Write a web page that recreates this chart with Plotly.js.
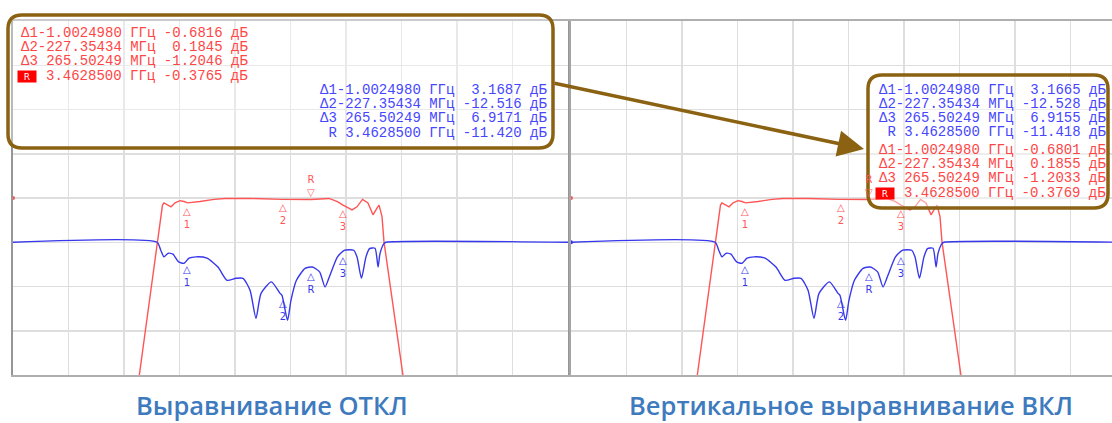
<!DOCTYPE html>
<html>
<head>
<meta charset="utf-8">
<script src="https://cdn.plot.ly/plotly-3.0.1.min.js"></script>
<style>html,body{margin:0;padding:0;background:#fff;}#chart{width:1112px;height:423px;}</style>
</head>
<body>
<div id="chart"></div>
<script>
// ---- data ----
// S21 (red) trace: frequency, GHz / level, dB (10 dB/div)
const redFreq = [2.047,2.218,2.262,2.274,2.307,2.331,2.364,2.404,2.437,2.465,2.566,2.680,2.769,2.972,3.231,3.434,3.466,3.612,3.681,3.726,3.799,3.839,3.884,3.928,3.969,4.001,4.018,4.042,4.058,4.240];
const redDb   = [-45.6,-9.9,-1.6,-1.1,-1.6,-2.0,-1.1,-0.6,-0.8,-1.1,-0.8,-0.3,-0.1,-0.1,-0.3,-0.3,-0.35,-0.1,-0.8,-1.6,-2.7,-2.0,-0.3,-1.1,-3.8,-2.3,-1.6,-4.2,-9.9,-45.6];
// S11 (blue) trace: frequency, GHz / level, dB (20 dB/div)
const blueFreq = [1.05,2.218,2.248,2.274,2.307,2.347,2.393,2.437,2.477,2.534,2.623,2.712,2.785,2.858,2.915,2.972,3.020,3.061,3.145,3.215,3.231,3.276,3.304,3.348,3.418,3.478,3.536,3.580,3.620,3.681,3.739,3.812,3.839,3.875,3.912,3.941,3.985,4.010,4.026,4.058,4.074,5.55];
const blueDb   = [0,0,-3.6,-6.6,-5.0,-5.4,-8.9,-9.5,-7.2,-6.6,-7.2,-11.2,-17.2,-16.3,-16.3,-21.7,-34.4,-23.1,-17.9,-23.1,-24.0,-35.3,-26.2,-17.2,-11.8,-11.2,-13.4,-20.2,-14.9,-6.6,-3.6,-3.6,-6.6,-16.3,-6.6,-2.9,-2.7,-11.2,-5.0,-0.6,0,0];

// marker tables
const tableMarkers  = ['Δ1','Δ2','Δ3','R'];
const tableFreqText = ['-1.0024980','-227.35434',' 265.50249',' 3.4628500'];
const tableUnits    = ['ГГц','МГц','МГц','ГГц'];
const leftRedVals   = ['-0.6816',' 0.1845','-1.2046','-0.3765'];
const leftBlueVals  = [' 3.1687','-12.516',' 6.9171','-11.420'];
const rightBlueVals = [' 3.1665','-12.528',' 6.9155','-11.418'];
const rightRedVals  = ['-0.6801',' 0.1855','-1.2033','-0.3769'];
const markerLabels  = ['1','2','3','R'];
const panelTitles   = ['Выравнивание ОТКЛ','Вертикальное выравнивание ВКЛ'];

// ---- helpers ----
const W = 1112, H = 423;
const PX = x => x / W;
const PY = y => 1 - y / H;
const RED = 'rgb(255,85,85)', BLUE = 'rgb(55,55,235)';
const TRED = 'rgb(255,70,70)', TBLUE = 'rgb(70,70,255)';
const BROWN = 'rgb(139,98,18)';
const CH = 8.4; // monospace character width at 14px
const nb = s => s.replace(/ /g, '\u00A0');

function mkFreq(i) {
  const v = parseFloat(tableFreqText[i]);
  return tableUnits[i] === 'МГц' ? v / 1000 : v;
}
function markerPos(vals) {
  const rf = mkFreq(3), rdb = parseFloat(vals[3]);
  return tableMarkers.map((m, i) => i < 3
    ? {f: rf + mkFreq(i), db: rdb + parseFloat(vals[i])}
    : {f: rf, db: rdb});
}
function rowText(i, vals, redRow) {
  if (i === 3 && redRow) return nb(tableFreqText[i].trim() + ' ' + tableUnits[i] + ' ' + vals[i] + ' дБ');
  let name = i === 3 ? ' R' : tableMarkers[i];
  return nb(name + tableFreqText[i] + ' ' + tableUnits[i] + ' ' + vals[i] + ' дБ');
}

const span = 0.45; // GHz per division
const f0 = 1.05;
const pxPerGHz = 55.5 / span;

const traces = [
  {x: redFreq, y: redDb, xaxis: 'x', yaxis: 'y', mode: 'lines', line: {color: RED, width: 1.4}, hoverinfo: 'skip'},
  {x: blueFreq, y: blueDb, xaxis: 'x', yaxis: 'y2', mode: 'lines', line: {color: BLUE, width: 1.4, shape: 'spline', smoothing: 0.6}, hoverinfo: 'skip'},
  {x: [f0], y: [0], xaxis: 'x', yaxis: 'y', mode: 'markers', marker: {color: RED, size: 4}, cliponaxis: false},
  {x: redFreq, y: redDb, xaxis: 'x2', yaxis: 'y3', mode: 'lines', line: {color: RED, width: 1.4}, hoverinfo: 'skip'},
  {x: blueFreq, y: blueDb, xaxis: 'x2', yaxis: 'y4', mode: 'lines', line: {color: BLUE, width: 1.4, shape: 'spline', smoothing: 0.6}, hoverinfo: 'skip'},
  {x: [f0], y: [0], xaxis: 'x2', yaxis: 'y3', mode: 'markers', marker: {color: RED, size: 4}, cliponaxis: false},
  {x: [f0], y: [0], xaxis: 'x2', yaxis: 'y4', mode: 'markers', marker: {color: BLUE, size: 4}, cliponaxis: false}
];

const yDom = [PY(375), PY(21)];
const gridC = 'rgb(222,222,222)';
const baseX = {showgrid: true, gridcolor: gridC, gridwidth: 1.5, zeroline: false, showticklabels: false, ticks: '', tick0: f0, dtick: span, showline: true, linecolor: 'rgb(175,175,175)', linewidth: 2, fixedrange: true};
const baseY = {showgrid: true, gridcolor: gridC, gridwidth: 1.5, zeroline: false, showticklabels: false, ticks: '', range: [-40, 40], dtick: 10, showline: true, linecolor: 'rgb(165,165,165)', linewidth: 2, fixedrange: true};
const baseY2 = {showgrid: false, zeroline: false, showticklabels: false, ticks: '', range: [-60, 100], showline: false, fixedrange: true};

const annotations = [];
const mkFont = c => ({family: 'DejaVu Sans', size: 10, color: c});
function addMarkers(xa, yRed, yBlue, redVals, blueVals) {
  const rp = markerPos(redVals), bp = markerPos(blueVals);
  rp.forEach((p, i) => {
    if (i < 3) {
      annotations.push({x: p.f, y: p.db, xref: xa, yref: yRed, text: '△<br>' + markerLabels[i], showarrow: false, yanchor: 'top', yshift: -1, font: mkFont(RED)});
    } else {
      annotations.push({x: p.f, y: p.db, xref: xa, yref: yRed, text: 'R<br>▽', showarrow: false, yanchor: 'bottom', yshift: 0, font: mkFont(RED)});
    }
  });
  bp.forEach((p, i) => {
    annotations.push({x: p.f, y: p.db, xref: xa, yref: yBlue, text: '△<br>' + markerLabels[i], showarrow: false, yanchor: 'top', yshift: -1, font: mkFont(BLUE)});
  });
}
addMarkers('x', 'y', 'y2', leftRedVals, leftBlueVals);
addMarkers('x2', 'y3', 'y4', rightRedVals, rightBlueVals);

const mono = c => ({family: 'Liberation Mono, DejaVu Sans Mono, monospace', size: 14, color: c});
function addRows(xLeft, yRows, vals, color, redRow) {
  yRows.forEach((yy, i) => {
    const shift = (i === 3 && redRow) ? 3 * CH : 0;
    annotations.push({xref: 'paper', yref: 'paper', x: PX(xLeft + shift), y: PY(yy), xanchor: 'left', yanchor: 'middle', text: rowText(i, vals, redRow), showarrow: false, font: mono(color)});
  });
  if (redRow) {
    annotations.push({xref: 'paper', yref: 'paper', x: PX(xLeft - 2), y: PY(yRows[3]), xanchor: 'left', yanchor: 'middle', text: 'R', showarrow: false, bgcolor: 'rgb(255,0,0)', width: 18, height: 11, borderpad: 0, font: {family: 'DejaVu Sans', size: 9, color: '#fff'}});
  }
}
addRows(19, [33, 47, 61, 76], leftRedVals, TRED, true);
addRows(318, [90, 104, 118, 133], leftBlueVals, TBLUE, false);
addRows(877, [90, 104, 118, 132], rightBlueVals, TBLUE, false);
addRows(877, [150, 164, 178, 193], rightRedVals, TRED, true);

// arrow between the boxes
annotations.push({xref: 'paper', yref: 'paper', x: PX(864), y: PY(149), ax: 553 - 864, ay: 83 - 149, text: '', showarrow: true, arrowhead: 2, arrowsize: 1.5, arrowwidth: 3.5, arrowcolor: BROWN, standoff: 0});

// panel captions
[[272, panelTitles[0]], [851, panelTitles[1]]].forEach(([cx, t]) => {
  annotations.push({xref: 'paper', yref: 'paper', x: PX(cx), y: PY(405), xanchor: 'center', yanchor: 'middle', text: t, showarrow: false, font: {family: 'Open Sans', size: 25.5, weight: 600, color: 'rgb(62,122,190)'}});
});

function roundRect(x0, y0, x1, y1, r) {
  const X = PX, Y = PY;
  return 'M' + X(x0 + r) + ',' + Y(y0) +
    ' L' + X(x1 - r) + ',' + Y(y0) + ' Q' + X(x1) + ',' + Y(y0) + ' ' + X(x1) + ',' + Y(y0 + r) +
    ' L' + X(x1) + ',' + Y(y1 - r) + ' Q' + X(x1) + ',' + Y(y1) + ' ' + X(x1 - r) + ',' + Y(y1) +
    ' L' + X(x0 + r) + ',' + Y(y1) + ' Q' + X(x0) + ',' + Y(y1) + ' ' + X(x0) + ',' + Y(y1 - r) +
    ' L' + X(x0) + ',' + Y(y0 + r) + ' Q' + X(x0) + ',' + Y(y0) + ' ' + X(x0 + r) + ',' + Y(y0) + ' Z';
}
const shapes = [
  {type: 'path', xref: 'paper', yref: 'paper', path: roundRect(8, 15, 553, 148, 14), line: {color: BROWN, width: 3.5}, fillcolor: 'rgba(255,255,255,0.35)', layer: 'above'},
  {type: 'path', xref: 'paper', yref: 'paper', path: roundRect(868, 75, 1108, 208, 14), line: {color: BROWN, width: 3.5}, fillcolor: 'rgba(255,255,255,0.45)', layer: 'above'}
];

const layout = {
  width: W, height: H,
  margin: {l: 0, r: 0, t: 0, b: 0},
  paper_bgcolor: '#fff', plot_bgcolor: '#fff',
  showlegend: false,
  xaxis: Object.assign({}, baseX, {domain: [PX(13), PX(568)], range: [f0, f0 + 10 * span], anchor: 'y', mirror: true}),
  yaxis: Object.assign({}, baseY, {domain: yDom, anchor: 'x', mirror: true, linecolor: 'rgb(150,150,150)'}),
  yaxis2: Object.assign({}, baseY2, {overlaying: 'y', anchor: 'x'}),
  xaxis2: Object.assign({}, baseX, {domain: [PX(571), 1], range: [f0, f0 + (W - 571) / pxPerGHz], anchor: 'y3', mirror: true}),
  yaxis3: Object.assign({}, baseY, {domain: yDom, anchor: 'x2', mirror: false}),
  yaxis4: Object.assign({}, baseY2, {overlaying: 'y3', anchor: 'x2'}),
  annotations: annotations,
  shapes: shapes
};

Plotly.newPlot('chart', traces, layout, {staticPlot: true, displayModeBar: false});
</script>
</body>
</html>
